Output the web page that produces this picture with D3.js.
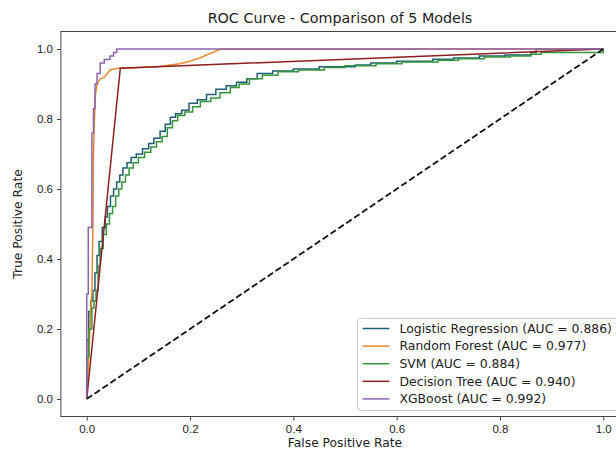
<!doctype html>
<html lang="en">
<head>
<meta charset="utf-8">
<title>ROC Curve</title>
<style>
  body { margin: 0; background: #fff; }
  svg { display: block; font-family: "DejaVu Sans", sans-serif; }
  .tick text { font-size: 11.5px; fill: #222; }
  .tick line { stroke: #444; }
</style>
</head>
<body>
<div id="chart"></div>
<script src="https://cdn.jsdelivr.net/npm/d3@7"></script>
<script>
// model names and AUC values
var models = ["Logistic Regression", "Random Forest", "SVM", "Decision Tree", "XGBoost"];
var aucs = [0.886, 0.977, 0.884, 0.940, 0.992];
var colors = ["#1f5e72", "#e68a2e", "#35953a", "#8c1f1f", "#8a63b0"];

// roc points (fpr, tpr)
var lrFpr = [0, 0, 0.004, 0.008, 0.012, 0.016, 0.02, 0.024, 0.03, 0.036, 0.04, 0.046, 0.052, 0.058, 0.064, 0.07, 0.078, 0.086, 0.096, 0.108, 0.12, 0.13, 0.142, 0.152, 0.162, 0.172, 0.184, 0.198, 0.214, 0.232, 0.25, 0.27, 0.29, 0.31, 0.33, 0.36, 0.4, 0.45, 0.52, 0.55, 0.6, 0.67, 0.71, 0.76, 0.81, 0.86, 0.87, 1.0];
var lrTpr = [0, 0.17, 0.25, 0.28, 0.31, 0.36, 0.41, 0.45, 0.49, 0.52, 0.55, 0.58, 0.6, 0.62, 0.64, 0.66, 0.675, 0.69, 0.7, 0.715, 0.73, 0.745, 0.765, 0.785, 0.805, 0.815, 0.825, 0.845, 0.855, 0.87, 0.885, 0.895, 0.905, 0.915, 0.93, 0.937, 0.943, 0.949, 0.954, 0.96, 0.965, 0.971, 0.974, 0.98, 0.983, 0.99, 1.0, 1.0];

var rfFpr = [0, 0.004, 0.008, 0.01, 0.012, 0.013, 0.015, 0.017, 0.02, 0.026, 0.035, 0.045, 0.06, 0.1, 0.14, 0.18, 0.2, 0.22, 0.24, 0.26, 1.0];
var rfTpr = [0, 0.12, 0.26, 0.3, 0.5, 0.7, 0.8, 0.87, 0.9, 0.915, 0.92, 0.94, 0.945, 0.947, 0.95, 0.958, 0.965, 0.975, 0.988, 1.0, 1.0];

var svmFpr = [0, 0, 0.004, 0.01, 0.014, 0.018, 0.022, 0.026, 0.032, 0.038, 0.044, 0.05, 0.056, 0.062, 0.068, 0.075, 0.082, 0.09, 0.1, 0.112, 0.124, 0.135, 0.146, 0.156, 0.166, 0.176, 0.19, 0.205, 0.22, 0.24, 0.258, 0.278, 0.295, 0.315, 0.34, 0.37, 0.41, 0.46, 0.5, 0.56, 0.61, 0.68, 0.72, 0.77, 0.82, 0.86, 0.88, 1.0];
var svmTpr = [0, 0.12, 0.2, 0.26, 0.28, 0.31, 0.38, 0.43, 0.47, 0.5, 0.53, 0.55, 0.58, 0.6, 0.62, 0.64, 0.66, 0.675, 0.69, 0.705, 0.72, 0.735, 0.75, 0.775, 0.795, 0.81, 0.82, 0.835, 0.85, 0.86, 0.875, 0.89, 0.9, 0.915, 0.925, 0.935, 0.94, 0.947, 0.952, 0.958, 0.963, 0.968, 0.972, 0.977, 0.98, 0.985, 0.99, 1.0];

var dtFpr = [0, 0.065, 1.0];
var dtTpr = [0, 0.945, 1.0];

var xgbFpr = [0, 0, 0.003, 0.01, 0.013, 0.016, 0.02, 0.026, 0.034, 0.045, 0.052, 0.058, 1.0];
var xgbTpr = [0, 0.3, 0.49, 0.76, 0.83, 0.9, 0.93, 0.96, 0.97, 0.98, 0.99, 1.0, 1.0];

var ticks = [0.0, 0.2, 0.4, 0.6, 0.8, 1.0];

var width = 616, height = 450;

var svg = d3.select("#chart").append("svg")
    .attr("width", width)
    .attr("height", height);

// scales, matplotlib style 5% margins
var x = d3.scaleLinear().domain([-0.05, 1.05]).range([60.9, 629.1]);
var y = d3.scaleLinear().domain([-0.05, 1.05]).range([416.5, 31.5]);

// axes
svg.append("g")
    .attr("transform", "translate(0," + y(-0.05) + ")")
    .call(d3.axisBottom(x).tickValues(ticks).tickFormat(d3.format(".1f")).tickSize(4).tickPadding(4))
    .call(function(g) { g.select(".domain").remove(); });

svg.append("g")
    .attr("transform", "translate(" + x(-0.05) + ",0)")
    .call(d3.axisLeft(y).tickValues(ticks).tickFormat(d3.format(".1f")).tickSize(4).tickPadding(4))
    .call(function(g) { g.select(".domain").remove(); });

var series = [
  { fpr: lrFpr, tpr: lrTpr, curve: d3.curveStepAfter },
  { fpr: rfFpr, tpr: rfTpr, curve: d3.curveLinear },
  { fpr: svmFpr, tpr: svmTpr, curve: d3.curveStepAfter },
  { fpr: dtFpr, tpr: dtTpr, curve: d3.curveLinear },
  { fpr: xgbFpr, tpr: xgbTpr, curve: d3.curveStepAfter }
];

var plot = svg.append("g");

series.forEach(function(s, i) {
  var pts = s.fpr.map(function(f, j) { return [f, s.tpr[j]]; });
  var line = d3.line()
      .x(function(d) { return x(d[0]); })
      .y(function(d) { return y(d[1]); })
      .curve(s.curve);
  plot.append("path")
      .datum(pts)
      .attr("fill", "none")
      .attr("stroke", colors[i])
      .attr("stroke-width", 1.5)
      .attr("d", line);
});

// chance line
plot.append("path")
    .datum([[0, 0], [1, 1]])
    .attr("fill", "none")
    .attr("stroke", "#111")
    .attr("stroke-width", 1.8)
    .attr("stroke-dasharray", "6.5,3")
    .attr("d", d3.line().x(function(d) { return x(d[0]); }).y(function(d) { return y(d[1]); }));

// frame
svg.append("rect")
    .attr("x", x(-0.05))
    .attr("y", y(1.05))
    .attr("width", x(1.05) - x(-0.05))
    .attr("height", y(-0.05) - y(1.05))
    .attr("fill", "none")
    .attr("stroke", "#444")
    .attr("stroke-width", 1);

// title and labels
svg.append("text")
    .attr("x", 340)
    .attr("y", 23)
    .attr("text-anchor", "middle")
    .style("font-size", "14.3px")
    .style("fill", "#222")
    .text("ROC Curve - Comparison of 5 Models");

svg.append("text")
    .attr("x", 345)
    .attr("y", 447)
    .attr("text-anchor", "middle")
    .style("font-size", "12.3px")
    .style("fill", "#222")
    .text("False Positive Rate");

svg.append("text")
    .attr("transform", "translate(22," + ((y(-0.05) + y(1.05)) / 2) + ") rotate(-90)")
    .attr("text-anchor", "middle")
    .style("font-size", "12.3px")
    .style("fill", "#222")
    .text("True Positive Rate");

// legend
var legend = svg.append("g").attr("transform", "translate(357.5,318.5)");
legend.append("rect")
    .attr("width", 268)
    .attr("height", 92)
    .attr("rx", 3)
    .attr("fill", "#fff")
    .attr("fill-opacity", 0.85)
    .attr("stroke", "#ccc");

models.forEach(function(m, i) {
  var row = legend.append("g").attr("transform", "translate(0," + (10 + i * 17.6) + ")");
  row.append("line")
      .attr("x1", 5).attr("x2", 32)
      .attr("stroke", colors[i])
      .attr("stroke-width", 1.5);
  row.append("text")
      .attr("x", 42)
      .attr("dy", "0.35em")
      .style("font-size", "12.4px")
      .style("fill", "#222")
      .text(m + " (AUC = " + aucs[i].toFixed(3) + ")");
});
</script>
</body>
</html>
